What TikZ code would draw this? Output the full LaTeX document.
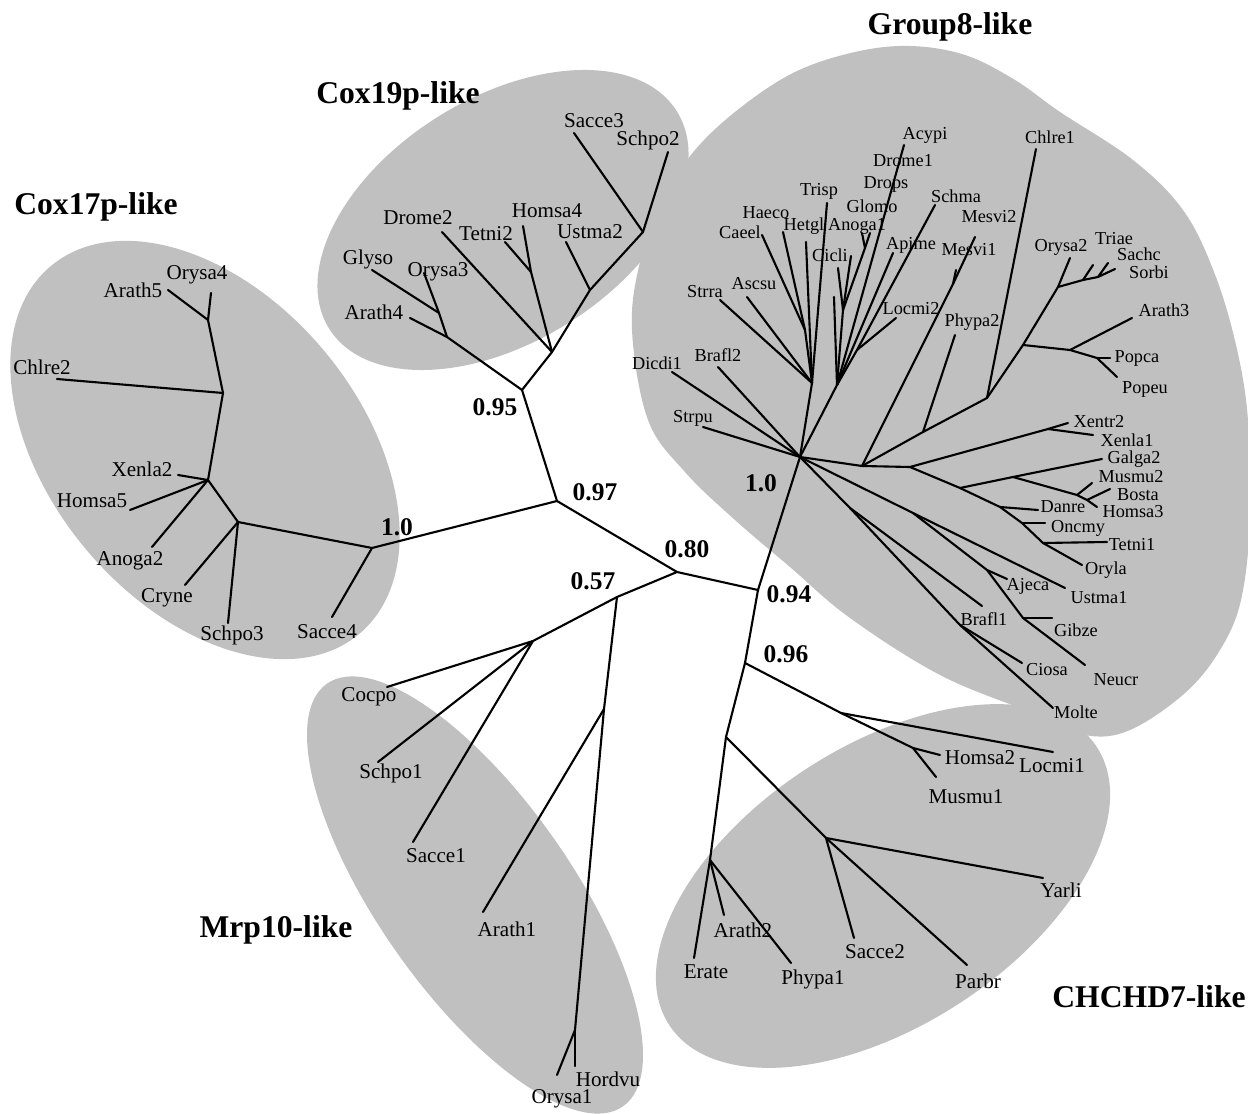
\documentclass[tikz,border=0pt]{standalone}
\usepackage{tikz}
\usepackage{fontspec}
\setmainfont{Liberation Serif}
\definecolor{blob}{RGB}{192,192,192}
\begin{document}
\begin{tikzpicture}[x=0.02cm,y=-0.02cm,
  br/.style={line width=1.2pt, line cap=round, line join=round},
  ell/.style={fill=blob},
  lab/.style={inner sep=0pt, font=\fontsize{12}{14}\selectfont},
  glab/.style={inner sep=0pt, font=\fontsize{10.4}{12}\selectfont},
  num/.style={inner sep=0pt, font=\fontsize{14.5}{16}\selectfont\bfseries},
  ttl/.style={inner sep=0pt, font=\fontsize{18}{20}\selectfont\bfseries}]
\useasboundingbox (0,0) rectangle (1248,1114);
\fill[white] (0,0) rectangle (1248,1114);

% group shading
\fill[ell, rotate around={-50:(205,450)}] (205,450) ellipse [x radius=240, y radius=155];
\fill[ell, rotate around={32:(503,220)}] (503,220) ellipse [x radius=205, y radius=122];
\fill[ell, rotate around={-55:(475,895)}] (475,895) ellipse [x radius=258, y radius=97];
\fill[ell, rotate around={33:(883,886)}] (883,886) ellipse [x radius=255, y radius=140];
\fill[ell] plot[smooth cycle, tension=0.6] coordinates {(632,330) (640,262) (662,200) (695,150) (740,108) (795,72) (855,52) (910,46) (965,55) (1015,80) (1060,112) (1133,160) (1183,210) (1214,272) (1236,345) (1248,420) (1250,520) (1241,600) (1220,650) (1185,693) (1130,730) (1085,735) (1030,712) (940,675) (850,618) (790,567) (735,520) (685,472) (648,420)};

% tree points
\foreach \n/\x/\y in {N10/372/548, N097/557/501, N095/522/390, N080/677/572, N057/617/597, N094/758/590, G0/800/457, N096/745/663,
C17A/238/522, C17B/208/480, C17C/223/393, C17D/208/320,
lSacce4/332/617, lSchpo3/228/623, lCryne/185/585, lAnoga2/152/547, lHomsa5/130/510, lXenla2/178/475, lChlre2/57/379, lArath5/168/290, lOrysa4/211/293,
C19A/447/337, C19A2/439/313, C19B/552/352, C19C/531/272, C19D/590/290, C19E/643/232,
lArath4/410/318, lGlyso/372/270, lOrysa3/424/273, lDrome2/442/232, lTetni2/505/242, lHomsa4/523/226, lUstma2/566/242, lSacce3/574/133, lSchpo2/668/152,
MA/533/641, MB/604/709, MC/575/1030,
lCocpo/387/687, lSchpo1/378/762, lSacce1/413/842, lArath1/483/912, lHordvu/575/1066, lOrysa1/557/1075,
CHA/841/713, CHB/913/748, CHC/726/737, CHD/826/838, CHE/710/860,
lLocmi1/1053/752, lHomsa2/940/755, lMusmu1/936/777, lYarli/1043/878, lSacce2/854/938, lParbr/967/965, lErate/694/958, lArath2/724/915, lPhypa1/791/963,
lStrpu/703/427, lDicdi1/672/372, lBrafl2/718/367,
GA/812/383, GA1/805/330, lStrra/720/300, lAscsu/747/297, lCaeel/762/235, lHaeco/783/232, lHetgl/806/242, lTrisp/827/203,
GB/837/385, GB1/843/310, GB2/865/248, GB3/857/350, lUnk/834/297, lCicliA/838/268, lCicliB/851/256, lAnogaA/862/233, lAnogaB/870/233, lAcypi/904/145, lApime/893/253, lSchma/935/205, lLocmi2/896/318,
GM/862/466, GMe/953/284, lMesvi2/975/237, lMesvi1/956/270,
GP/923/432, lPhypa2/955/335, GR1/987/398, lChlre1/1036/149, GR2/1023/345, GR3/1058/287, lOrysa2/1070/258, GR4/1083/280, lTriae/1093/265, GR5/1098/277, lSachc/1108/263, lSorbi/1115/269, GR6/1070/350, lArath3/1132/318, GR7/1097/358, lPopca/1110/358, lPopeu/1117/377,
GV/910/467, GX/1048/429, lXentr2/1068/423, lXenla1/1093/435, GW/960/488, GMam0/1013/477, lGalga2/1102/459, GMam/1077/495, lMusmu2/1092/483, GBH/1087/500, lBosta/1110/489, lHomsa3/1097/507,
GF/1000/507, lDanre/1038/510, GF2/1022/523, lOncmy/1045/523, GF3/1043/543, lTetni1/1107/542, lOryla/1082/565,
GU/913/513, lUstma1/1065/588, GAJ/987/570, lAjeca/1007/579, GGZ/1023/618, lGibze/1052/618, lNeucr/1085/665,
GL/850/508, lBrafl1/982/606, GCM/960/625, lCiosa/1022/663, lMolte/1053/708}
  \coordinate (\n) at (\x,\y);

% branches
\foreach \a/\b in {N10/N097, N097/N095, N097/N080, N080/N057, N080/N094, N094/G0, N094/N096,
N10/lSacce4, N10/C17A, C17A/lSchpo3, C17A/lCryne, C17A/C17B, C17B/lAnoga2, C17B/lHomsa5, C17B/lXenla2, C17B/C17C, C17C/lChlre2, C17C/C17D, C17D/lArath5, C17D/lOrysa4,
N095/C19A, N095/C19B, C19A/lArath4, C19A/C19A2, C19A2/lGlyso, C19A2/lOrysa3, C19B/lDrome2, C19B/C19C, C19C/lTetni2, C19C/lHomsa4, C19B/C19D, C19D/lUstma2, C19D/C19E, C19E/lSacce3, C19E/lSchpo2,
N057/MA, MA/lCocpo, MA/lSchpo1, MA/lSacce1, N057/MB, MB/lArath1, MB/MC, MC/lHordvu, MC/lOrysa1,
N096/CHA, CHA/lLocmi1, CHA/CHB, CHB/lHomsa2, CHB/lMusmu1, N096/CHC, CHC/CHD, CHD/lYarli, CHD/lSacce2, CHD/lParbr, CHC/CHE, CHE/lErate, CHE/lArath2, CHE/lPhypa1,
G0/lStrpu, G0/lDicdi1, G0/lBrafl2, G0/GA, GA/lStrra, GA/lAscsu, GA/GA1, GA1/lCaeel, GA1/lHaeco, GA/lHetgl, GA/lTrisp,
G0/GB, GB/lUnk, GB/GB1, GB1/lCicliA, GB1/lCicliB, GB1/GB2, GB2/lAnogaA, GB2/lAnogaB, GB/lAcypi, GB/lApime, GB/GB3, GB3/lSchma, GB3/lLocmi2,
G0/GM, GM/GMe, GMe/lMesvi2, GMe/lMesvi1, GM/GP, GP/lPhypa2, GP/GR1, GR1/lChlre1, GR1/GR2, GR2/GR3, GR3/lOrysa2, GR3/GR4, GR4/lTriae, GR4/GR5, GR5/lSachc, GR5/lSorbi, GR2/GR6, GR6/lArath3, GR6/GR7, GR7/lPopca, GR7/lPopeu,
GM/GV, GV/GX, GX/lXentr2, GX/lXenla1, GV/GW, GW/GMam0, GMam0/lGalga2, GMam0/GMam, GMam/lMusmu2, GMam/GBH, GBH/lBosta, GBH/lHomsa3, GW/GF, GF/lDanre, GF/GF2, GF2/lOncmy, GF2/GF3, GF3/lTetni1, GF3/lOryla,
G0/GU, GU/lUstma1, GU/GAJ, GAJ/lAjeca, GAJ/GGZ, GGZ/lGibze, GGZ/lNeucr,
G0/GL, GL/lBrafl1, GL/GCM, GCM/lCiosa, GCM/lMolte}
  \draw[br] (\a) -- (\b);

% leaf labels (12pt)
\foreach \n/\x/\y in {Orysa4/197/275, Arath5/133/290, Chlre2/42/367, Xenla2/142/469, Homsa5/92/501, Anoga2/130/561, Cryne/167/598, Schpo3/232/635, Sacce4/327/632,
Sacce3/594/121, Schpo2/648/140, Homsa4/547/211, Ustma2/590/232, Drome2/418/218, Tetni2/486/234, Glyso/368/259, Orysa3/438/272, Arath4/374/312,
Cocpo/369/697, Schpo1/391/773, Sacce1/436/856, Arath1/507/929, Hordvu/608/1079, Orysa1/562/1099,
Homsa2/980/758, Locmi1/1052/766, Musmu1/966/797, Yarli/1061/890, Arath2/743/930, Sacce2/875/952, Erate/706/972, Phypa1/813/979, Parbr/978/981}
  \node[lab] (t\n) at (\x,\y) {\n};

% leaf labels (Group8)
\foreach \n/\x/\y in {Acypi/925/135, Drome1/903/161, Drops/886/184, Glomo/872/206, Anoga1/857/226, Hetgl/804/226, Haeco/766/213, Caeel/740/232, Trisp/819/191, Cicli/830/255, Apime/911/245, Schma/956/196, Mesvi2/989/217, Mesvi1/969/250, Locmi2/911/309, Phypa2/972/322, Chlre1/1050/137, Orysa2/1061/247, Triae/1114/239, Sachc/1139/254, Sorbi/1149/272, Arath3/1164/310, Popca/1137/358, Popeu/1145/389,
Strra/705/292, Ascsu/754/284, Brafl2/718/355, Dicdi1/657/363, Strpu/693/418,
Xentr2/1099/422, Xenla1/1127/440, Galga2/1134/459, Musmu2/1131/477, Bosta/1138/495, Homsa3/1133/512, Danre/1063/507, Oncmy/1078/528, Tetni1/1132/545, Oryla/1106/570,
Ajeca/1028/586, Ustma1/1099/598, Brafl1/984/619, Gibze/1076/630, Ciosa/1047/670, Neucr/1116/680, Molte/1076/712}
  \node[glab] (t\n) at (\x,\y) {\n};

% support values
\node[num] (n095) at (495,407) {0.95};
\node[num] (n097) at (595,492) {0.97};
\node[num] (n10a) at (397,527) {1.0};
\node[num] (n080) at (687,549) {0.80};
\node[num] (n057) at (593,581) {0.57};
\node[num] (n10b) at (761,483) {1.0};
\node[num] (n094) at (789,594) {0.94};
\node[num] (n096) at (786,654) {0.96};

% group titles
\node[ttl] (g8) at (950,27) {Group8-like};
\node[ttl] (c17) at (96,207) {Cox17p-like};
\node[ttl] (c19) at (398,96) {Cox19p-like};
\node[ttl] (mrp) at (276,930) {Mrp10-like};
\node[ttl] (chd) at (1149,997) {CHCHD7-like};
\end{tikzpicture}
\end{document}
